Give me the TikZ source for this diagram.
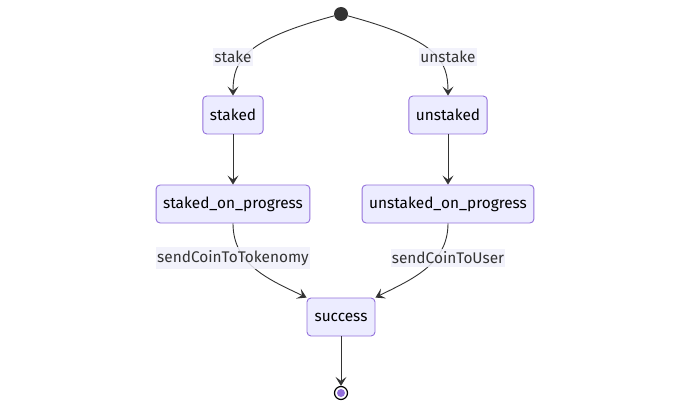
\documentclass[tikz,border=0pt]{standalone}
\usepackage{fontspec}
\setmainfont{Fira Sans}
\usetikzlibrary{arrows.meta}
\definecolor{boxfill}{HTML}{ECECFF}
\definecolor{boxdraw}{HTML}{9370DB}
\definecolor{edgec}{HTML}{333333}
\definecolor{lblbg}{HTML}{F0F0FA}
\tikzset{
  state/.style={draw=boxdraw, fill=boxfill, rounded corners=4pt, line width=0.9pt,
    minimum height=38pt, inner xsep=7pt, font=\fontsize{15.4}{17}\selectfont, text=black},
  lbl/.style={fill=lblbg, fill opacity=0.85, text opacity=1, inner xsep=1pt, inner ysep=3pt,
    font=\fontsize{15.4}{17}\selectfont, text=edgec},
  edge/.style={draw=edgec, line width=0.9pt, -{Stealth[length=9pt,width=11pt,inset=4pt]}},
}
\begin{document}
\begin{tikzpicture}[x=1pt,y=-1pt]
\useasboundingbox (0,0) rectangle (691,409);
\node[circle, fill=edgec, minimum size=14pt, inner sep=0pt] (start) at (341,14) {};
\node[state] (staked) at (233,115) {staked};
\node[state] (unstaked) at (448,115) {unstaked};
\node[state] (sop) at (233,204) {staked\_on\_progress};
\node[state] (uop) at (448,204) {unstaked\_on\_progress};
\node[state, minimum width=68pt] (success) at (341,317) {success};
\node[circle, draw=black, line width=1.2pt, fill=white, minimum size=13pt, inner sep=0pt] (end) at (341,393) {};
\node[circle, fill=boxdraw, minimum size=8pt, inner sep=0pt] (endin) at (end) {};

\draw[edge] (start) .. controls (245,40) and (233,60) .. (staked.north);
\draw[edge] (start) .. controls (437,40) and (448,60) .. (unstaked.north);
\draw[edge] (staked) -- (sop);
\draw[edge] (unstaked) -- (uop);
\draw[edge] (sop.south) .. controls (233,265) and (270,280) .. (success.north west);
\draw[edge] (uop.south) .. controls (448,265) and (410,280) .. (success.north east);
\draw[edge] (success) -- (end);

\node[lbl] (l1) at (233,57) {stake};
\node[lbl] (l2) at (448,57) {unstake};
\node[lbl] (l3) at (233,258) {sendCoinToTokenomy};
\node[lbl] (l4) at (448,258) {sendCoinToUser};
\end{tikzpicture}
\end{document}
